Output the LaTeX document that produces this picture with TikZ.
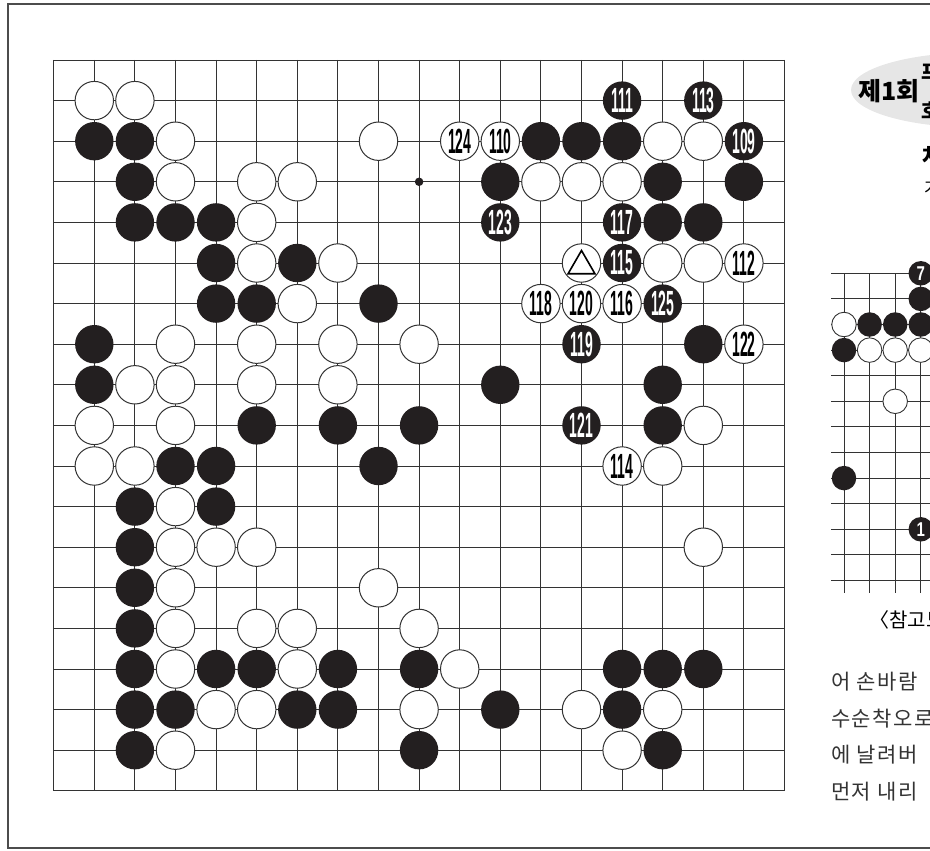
\documentclass[tikz,border=0pt]{standalone}
\usepackage{fontspec}
\usepackage{graphicx}
\setmainfont{Liberation Sans}
\newfontfamily\krfont{Noto Sans CJK KR}
\newfontfamily\krbody[LetterSpace=7]{Noto Sans CJK KR}
\usetikzlibrary{positioning,shapes.geometric}

\definecolor{stoneblack}{HTML}{231F20}
\definecolor{linegray}{HTML}{333333}
\definecolor{badgegray}{HTML}{E6E6E6}

\newcommand{\stonefont}{\fontsize{35}{35}\selectfont\bfseries}
\newcommand{\smallstonefont}{\fontsize{20}{20}\selectfont\bfseries}
\newcommand{\bodyfont}{\krbody\fontsize{21}{21}\selectfont}
\newcommand{\mv}[1]{\scalebox{0.4}[1]{#1}}
\newcommand{\smv}[1]{\scalebox{0.75}[1]{#1}}

\begin{document}
\begin{tikzpicture}[x=1pt, y=-1pt,
    frame/.style={draw=black!70, line width=1.4pt},
    gridline/.style={draw=linegray, line width=0.9pt},
    stone/.style={circle, minimum size=38.4pt, inner sep=0pt, outer sep=0pt},
    bstone/.style={stone, fill=stoneblack},
    wstone/.style={stone, fill=white, draw=linegray, line width=1pt},
    bnum/.style={bstone, text=white, font=\stonefont},
    wnum/.style={wstone, text=black, font=\stonefont},
    hoshi/.style={circle, fill=stoneblack, minimum size=8.5pt, inner sep=0pt},
    tri/.style={regular polygon, regular polygon sides=3, draw=black, line width=1.6pt, minimum size=31pt, inner sep=0pt},
    sstone/.style={circle, minimum size=24.5pt, inner sep=0pt, outer sep=0pt},
    sblack/.style={sstone, fill=stoneblack},
    swhite/.style={sstone, fill=white, draw=linegray, line width=0.9pt},
    snum/.style={sblack, text=white, font=\smallstonefont},
    body/.style={anchor=west, inner sep=0pt, font=\bodyfont, text=black!80}
  ]
    \useasboundingbox (0,0) rectangle (930,851);
    \clip (0,0) rectangle (930,851);

    % page frame
    \draw[frame] (8,4) rectangle (960,848);

    % main board
    \begin{scope}[shift={(13.1,19.4)}, x=40.6pt, y=-40.6pt]
      \foreach \i in {1,...,19} {
        \draw[gridline] (\i,1) -- (\i,19);
        \draw[gridline] (1,\i) -- (19,\i);
      }
      \node[hoshi] (hoshi) at (10,4) {};

      % black stones
      \foreach \c/\r in {2/3, 3/3, 13/3, 14/3, 15/3, 3/4, 12/4, 16/4, 18/4,
          3/5, 4/5, 5/5, 16/5, 17/5, 5/6, 7/6, 5/7, 6/7, 9/7, 2/8, 17/8,
          2/9, 12/9, 16/9, 6/10, 8/10, 10/10, 16/10, 4/11, 5/11, 9/11,
          3/12, 5/12, 3/13, 3/14, 3/15,
          3/16, 5/16, 6/16, 8/16, 10/16, 15/16, 16/16, 17/16,
          3/17, 4/17, 7/17, 8/17, 12/17, 15/17, 3/18, 10/18, 16/18}
        \node[bstone] (s-\c-\r) at (\c,\r) {};

      % white stones
      \foreach \c/\r in {2/2, 3/2, 4/3, 9/3, 16/3, 17/3,
          4/4, 6/4, 7/4, 13/4, 14/4, 15/4, 6/5, 6/6, 8/6, 14/6, 16/6, 17/6,
          7/7, 4/8, 6/8, 8/8, 10/8, 3/9, 4/9, 6/9, 8/9, 2/10, 4/10, 17/10,
          2/11, 3/11, 16/11, 4/12, 4/13, 5/13, 6/13, 17/13, 4/14, 9/14,
          4/15, 6/15, 7/15, 10/15, 4/16, 7/16, 11/16,
          5/17, 6/17, 10/17, 14/17, 16/17, 4/18, 15/18}
        \node[wstone] (s-\c-\r) at (\c,\r) {};

      % numbered moves
      \foreach \c/\r/\n in {15/2/111, 17/2/113, 18/3/109, 12/5/123, 15/5/117,
          15/6/115, 16/7/125, 14/8/119, 14/10/121}
        \node[bnum] (s-\c-\r) at (\c,\r) {\mv{\n}};
      \foreach \c/\r/\n in {11/3/124, 12/3/110, 18/6/112, 13/7/118, 14/7/120,
          15/7/116, 18/8/122, 15/11/114}
        \node[wnum] (s-\c-\r) at (\c,\r) {\mv{\n}};

      \node[tri, yshift=-3pt] (triangle) at (s-14-6) {};
    \end{scope}

    % badge and heading
    \node[ellipse, fill=badgegray, minimum width=250pt, minimum height=75pt] (badge) at (976,90) {};
    \node[font=\krfont\bfseries\fontsize{25}{25}\selectfont, inner sep=0pt] (round) at (889,91) {제1회};
    \node[font=\krfont\bfseries\fontsize{20}{20}\selectfont, anchor=west, inner sep=0pt] (headA) at (921,72) {프};
    \node[font=\krfont\bfseries\fontsize{20}{20}\selectfont, anchor=west, inner sep=0pt] (headB) at (921,110) {호};
    \node[font=\krfont\bfseries\fontsize{22}{22}\selectfont, anchor=west, inner sep=0pt] (headC) at (922,156) {차};
    \node[font=\krfont\fontsize{17}{17}\selectfont, anchor=west, inner sep=0pt] (headD) at (924,188) {가};

    % reference diagram
    \begin{scope}[shift={(818.4,247.7)}, x=25.6pt, y=-25.6pt]
      \foreach \i in {1,...,13}
        \draw[gridline] (0.5,\i) -- (5.6,\i);
      \foreach \i in {1,...,5}
        \draw[gridline] (\i,1) -- (\i,13.5);
      \foreach \c/\r in {4/2, 2/3, 3/3, 4/3, 1/4, 1/9}
        \node[sblack] (r-\c-\r) at (\c,\r) {};
      \foreach \c/\r in {1/3, 2/4, 3/4, 4/4, 3/6}
        \node[swhite] (r-\c-\r) at (\c,\r) {};
      \node[snum] (r-4-1) at (4,1) {\smv{7}};
      \node[snum] (r-4-11) at (4,11) {\smv{1}};
    \end{scope}
    \node[font=\krfont\fontsize{20}{20}\selectfont, anchor=west, inner sep=0pt] (caption) at (869,620) {〈참고도〉};

    % commentary
    \node[body] (line1) at (831,682) {어 손바람};
    \node[body] (line2) at (831,719) {수순착오로};
    \node[body] (line3) at (831,755) {에 날려버};
    \node[body] (line4) at (831,792) {먼저 내리};
  \end{tikzpicture}
\end{document}
